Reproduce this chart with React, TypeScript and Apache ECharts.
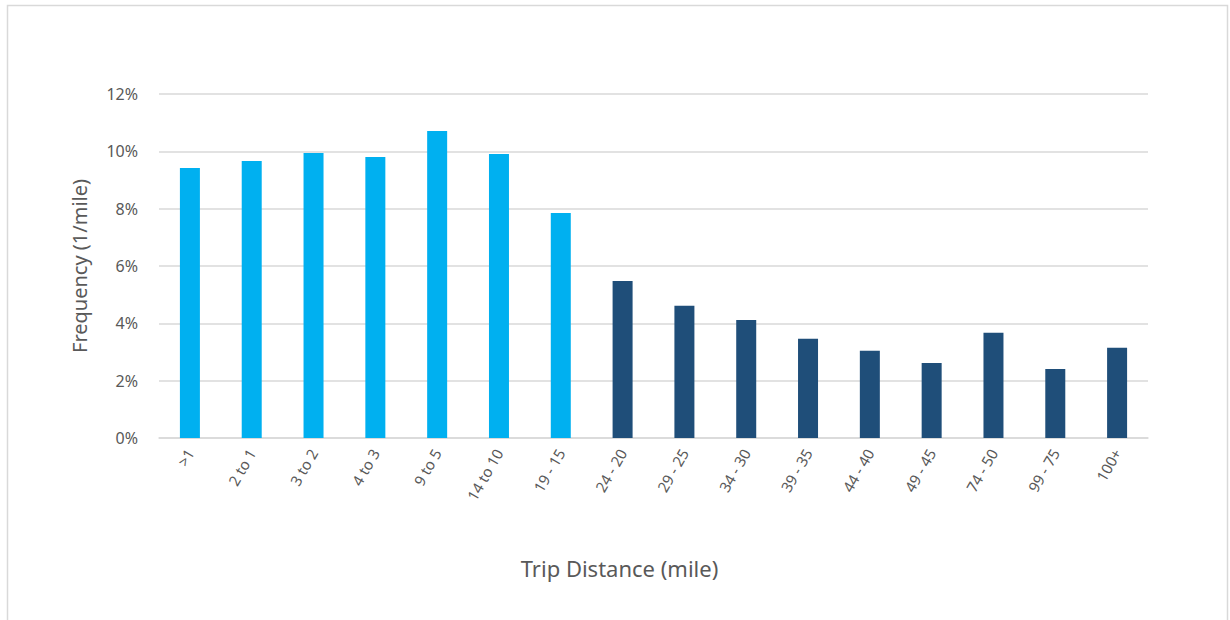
import React, { useEffect, useRef } from "react";
import * as echarts from "echarts";

// Trip distance bins (miles) and the share of trips per mile in each bin
const distanceBins = [
  ">1", "2 to 1", "3 to 2", "4 to 3", "9 to 5", "14 to 10", "19 - 15",
  "24 - 20", "29 - 25", "34 - 30", "39 - 35", "44 - 40", "49 - 45",
  "74 - 50", "99 - 75", "100+",
];
const frequencyPct = [
  9.42, 9.66, 9.94, 9.8, 10.71, 9.91, 7.85,
  5.48, 4.61, 4.12, 3.46, 3.04, 2.62, 3.67, 2.41, 3.15,
];
// Bins shorter than 20 miles are shown in the lighter colour
const shortBinCount = 7;
const yTicks = [0, 2, 4, 6, 8, 10, 12];

const LIGHT = "#00B0F0";
const DARK = "#1F4E79";
const TEXT = "#595959";
const FONT = "'Noto Sans', 'Open Sans', sans-serif";

export default function App() {
  const ref = useRef<HTMLDivElement>(null);

  useEffect(() => {
    if (!ref.current) return;
    const chart = echarts.init(ref.current, undefined, { renderer: "svg" });
    chart.setOption({
      animation: false,
      backgroundColor: "#ffffff",
      textStyle: { fontFamily: FONT },
      graphic: [
        {
          type: "rect",
          shape: { x: 7.5, y: 5.5, width: 1220, height: 640 },
          style: { fill: "none", stroke: "#d9d9d9", lineWidth: 1.5 },
          silent: true,
        },
      ],
      grid: { left: 159, right: 82, top: 94, bottom: 182 },
      xAxis: {
        type: "category",
        data: distanceBins,
        name: "Trip Distance (mile)",
        nameLocation: "middle",
        nameGap: 119,
        nameTextStyle: {
          fontSize: 22,
          color: TEXT,
          fontFamily: FONT,
          padding: [0, 68, 0, 0],
        },
        axisLine: { lineStyle: { color: "#d9d9d9", width: 1.5 } },
        axisTick: { show: false },
        axisLabel: {
          rotate: 60,
          fontSize: 15,
          color: TEXT,
          fontFamily: FONT,
          margin: 12,
          interval: 0,
        },
      },
      yAxis: {
        type: "value",
        min: yTicks[0],
        max: yTicks[yTicks.length - 1],
        interval: 2,
        name: "Frequency (1/mile)",
        nameLocation: "middle",
        nameGap: 70,
        nameTextStyle: { fontSize: 20, color: TEXT, fontFamily: FONT },
        axisLine: { show: false },
        axisTick: { show: false },
        axisLabel: {
          formatter: (v: number) => `${v}%`,
          fontSize: 16,
          color: TEXT,
          fontFamily: FONT,
          margin: 21,
        },
        splitLine: { lineStyle: { color: "#d9d9d9", width: 1.5 } },
      },
      series: [
        {
          type: "bar",
          data: frequencyPct.map((v, i) => ({
            value: v,
            itemStyle: { color: i < shortBinCount ? LIGHT : DARK },
          })),
          barWidth: 20,
        },
      ],
    });
    return () => chart.dispose();
  }, []);

  return (
    <div
      ref={ref}
      style={{ position: "fixed", left: 0, top: 0, width: 1230, height: 620 }}
    />
  );
}
